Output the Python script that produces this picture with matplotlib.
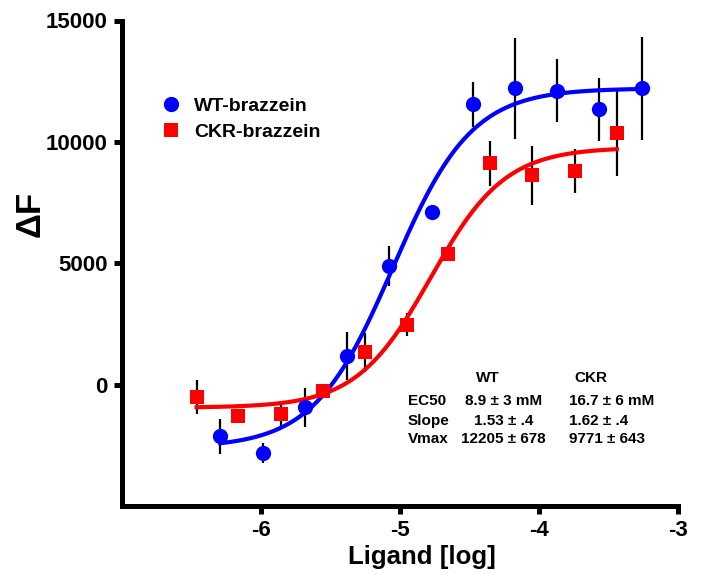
import numpy as np
import matplotlib
matplotlib.use("Agg")
import matplotlib.pyplot as plt

plt.rcParams['font.family'] = ['Liberation Sans', 'DejaVu Sans']
plt.rcParams['font.weight'] = 'bold'

# -- data --
log_wt = [-6.29, -5.98, -5.68, -5.38, -5.08, -4.77, -4.47, -4.17, -3.87, -3.57, -3.26]
wt = [-2120, -2810, -930, 1180, 4890, 7100, 11550, 12200, 12100, 11340, 12200]
wt_err = [720, 420, 800, 1000, 840, 150, 920, 2070, 1300, 1290, 2140]

log_ckr = [-6.46, -6.16, -5.85, -5.55, -5.25, -4.95, -4.65, -4.35, -4.05, -3.74, -3.44]
ckr = [-510, -1300, -1200, -250, 1330, 2470, 5380, 9110, 8630, 8810, 10380]
ckr_err = [690, 250, 500, 150, 790, 470, 300, 920, 1210, 910, 1780]

# fit parameters (top, bottom, EC50 in M, hill slope)
wt_fit = (12205, -2600, 8.9e-6, 1.53)
ckr_fit = (9771, -950, 16.7e-6, 1.62)

table_cols = ['WT', 'CKR']
table_rows = ['EC50', 'Slope', 'Vmax']
table_wt = ['8.9 \u00b1 3 mM', '1.53 \u00b1 .4', '12205 \u00b1 678']
table_ckr = ['16.7 \u00b1 6 mM', '1.62 \u00b1 .4', '9771 \u00b1 643']


def sigmoid(x, top, bottom, ec50, hill):
    return bottom + (top - bottom) / (1 + 10 ** ((np.log10(ec50) - x) * hill))


fig = plt.figure(figsize=(7.04, 5.74), dpi=100)
ax = fig.add_axes([121.5 / 704, 1 - 506 / 574, (678 - 121.5) / 704, (506 - 20.5) / 574])

# error bars
ax.errorbar(log_wt, wt, yerr=wt_err, fmt='none', ecolor='black', elinewidth=1.6, capsize=0, zorder=1)
ax.errorbar(log_ckr, ckr, yerr=ckr_err, fmt='none', ecolor='black', elinewidth=1.6, capsize=0, zorder=1)

# fitted curves
xs = np.linspace(min(log_wt), max(log_wt), 300)
ax.plot(xs, sigmoid(xs, *wt_fit), color='#0000ff', lw=3, zorder=2)
xs = np.linspace(min(log_ckr), max(log_ckr), 300)
ax.plot(xs, sigmoid(xs, *ckr_fit), color='#ff0000', lw=3, zorder=2)

# points
ax.plot(log_wt, wt, 'o', color='#0000ff', ms=11, mew=0, label='WT-brazzein', zorder=3)
ax.plot(log_ckr, ckr, 's', color='#ff0000', ms=9.5, mew=0, label='CKR-brazzein', zorder=3)

ax.legend(loc='upper left', bbox_to_anchor=(0.071, 0.842), frameon=False, borderpad=0,
          borderaxespad=0, handlelength=1.0, handletextpad=0.7, labelspacing=0.45,
          numpoints=1, prop={'size': 14, 'weight': 'bold'})

# parameter table
hy = 290
ys = [-690, -1480, -2220]
ax.text(-4.366, hy, table_cols[0], ha='center', va='center', fontsize=11, fontweight='bold')
ax.text(-3.628, hy, table_cols[1], ha='center', va='center', fontsize=11, fontweight='bold')
for i in range(3):
    ax.text(-4.94, ys[i], table_rows[i], ha='left', va='center', fontsize=11, fontweight='bold')
    ax.text(-4.255, ys[i], table_wt[i], ha='center', va='center', fontsize=11, fontweight='bold')
    ax.text(-3.78, ys[i], table_ckr[i], ha='left', va='center', fontsize=11, fontweight='bold')

ax.set_xlim(-7, -3)
ax.set_ylim(-5000, 15000)
ax.set_xticks([-6, -5, -4, -3])
ax.set_xticklabels(['-6', '-5', '-4', '-3'])
ax.set_yticks([0, 5000, 10000, 15000])

for s in ['top', 'right']:
    ax.spines[s].set_visible(False)
for s in ['left', 'bottom']:
    ax.spines[s].set_linewidth(3.6)
ax.tick_params(width=3.6, length=6, labelsize=16, pad=4)
for lab in ax.get_xticklabels() + ax.get_yticklabels():
    lab.set_fontweight('bold')

ax.set_xlabel('Ligand [log]', fontsize=18.6, fontweight='bold')
ax.xaxis.set_label_coords(0.54, -0.08)
ax.set_ylabel('\u0394F', fontsize=25, fontweight='bold', va='center')
ax.yaxis.set_label_coords(-0.164, 0.602)

fig.savefig('out.png', dpi=100)
